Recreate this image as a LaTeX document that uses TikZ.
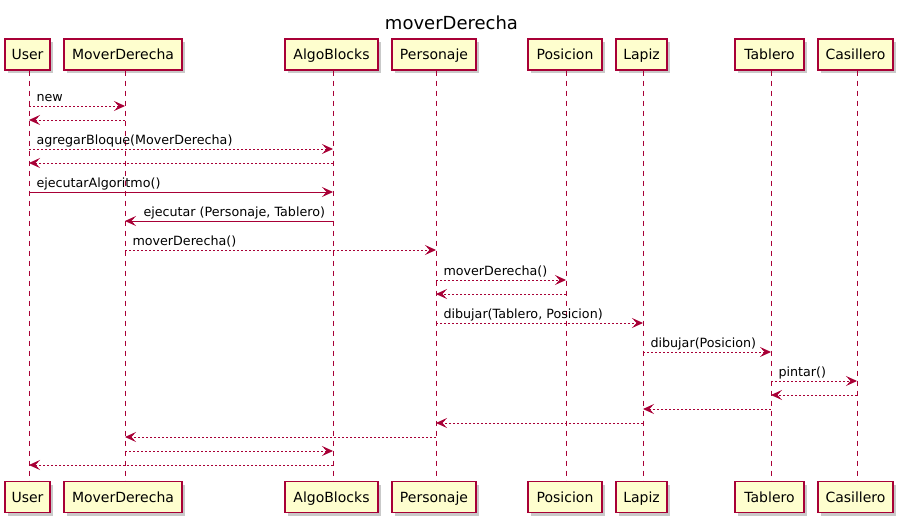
\documentclass[tikz,border=0pt]{standalone}
\usepackage{fontspec}
\setmainfont{DejaVu Sans}
\usetikzlibrary{arrows.meta,shadows,calc}
\definecolor{umlred}{HTML}{A80036}
\definecolor{umlfill}{HTML}{FEFECE}
\newcommand\umlmsg[6]{\draw[#1] ($(#2)+(0,#4)$) -- ($(#3)+(0,#4)$) node[lbl,pos=0,xshift=#6,yshift=5pt]{#5};}
\newcommand\umlrev[6]{\draw[#1] ($(#2)+(0,#4)$) -- ($(#3)+(0,#4)$) node[lbl,pos=1,xshift=#6,yshift=5pt]{#5};}
\begin{document}
\begin{tikzpicture}[x=1pt,y=-1pt,
  part/.style={draw=umlred, fill=umlfill, line width=1.3pt, inner sep=0pt,
    minimum height=31pt, text height=12pt, text depth=2pt,
    font=\fontsize{14}{16}\selectfont,
    drop shadow={shadow xshift=3pt,shadow yshift=-3pt,opacity=0.3,fill=black!70}},
  life/.style={draw=umlred, line width=1pt, dash pattern=on 5pt off 5pt},
  msg/.style={draw=umlred, line width=1pt, -{Stealth[length=11pt,width=10pt,inset=4.5pt,umlred]}},
  ret/.style={msg, dash pattern=on 2pt off 2pt},
  lbl/.style={font=\fontsize{12.7}{15}\selectfont, inner sep=0pt, anchor=base west, text=black},
]
\useasboundingbox (0,0) rectangle (906,525);
\node[font=\fontsize{18}{20}\selectfont, anchor=base, inner sep=0pt] (title) at (451.5,29) {moverDerecha};

% lifeline x positions
\coordinate (lU) at (29,0);
\coordinate (lM) at (125,0);
\coordinate (lA) at (333,0);
\coordinate (lP) at (436,0);
\coordinate (lO) at (566,0);
\coordinate (lL) at (643,0);
\coordinate (lT) at (771,0);
\coordinate (lC) at (857,0);

% participants top
\foreach \n/\c/\w/\t in {U/27.5/45/User, M/123/118/MoverDerecha, A/331.5/93/AlgoBlocks, P/434/84/Personaje, O/565/74/Posicion, L/641.5/51/Lapiz, T/769.5/69/Tablero, C/855.5/75/Casillero}{
  \node[part, minimum width=\w pt] (\n T) at (\c,54.5) {\t};
  \node[part, minimum width=\w pt] (\n B) at (\c,497) {\t};
}

% lifelines
\foreach \n in {U,M,A,P,O,L,T,C}{
  \draw[life] (\n T.south -| l\n) -- (\n B.north -| l\n);
}

% messages
\umlmsg{ret}{lU}{lM}{106}{new}{7pt}
\umlmsg{ret}{lM}{lU}{120}{}{0pt}
\umlmsg{ret}{lU}{lA}{149}{agregarBloque(MoverDerecha)}{7pt}
\umlmsg{ret}{lA}{lU}{163}{}{0pt}
\umlmsg{msg}{lU}{lA}{192}{ejecutarAlgoritmo()}{7pt}
\umlrev{msg}{lA}{lM}{221}{ejecutar (Personaje, Tablero)}{18pt}
\umlmsg{ret}{lM}{lP}{250}{moverDerecha()}{7pt}
\umlmsg{ret}{lP}{lO}{280}{moverDerecha()}{7pt}
\umlmsg{ret}{lO}{lP}{294}{}{0pt}
\umlmsg{ret}{lP}{lL}{323}{dibujar(Tablero, Posicion)}{7pt}
\umlmsg{ret}{lL}{lT}{352}{dibujar(Posicion)}{7pt}
\umlmsg{ret}{lT}{lC}{381}{pintar()}{7pt}
\umlmsg{ret}{lC}{lT}{395}{}{0pt}
\umlmsg{ret}{lT}{lL}{409}{}{0pt}
\umlmsg{ret}{lL}{lP}{423}{}{0pt}
\umlmsg{ret}{lP}{lM}{437}{}{0pt}
\umlmsg{ret}{lM}{lA}{451}{}{0pt}
\umlmsg{ret}{lA}{lU}{465}{}{0pt}
\end{tikzpicture}
\end{document}
